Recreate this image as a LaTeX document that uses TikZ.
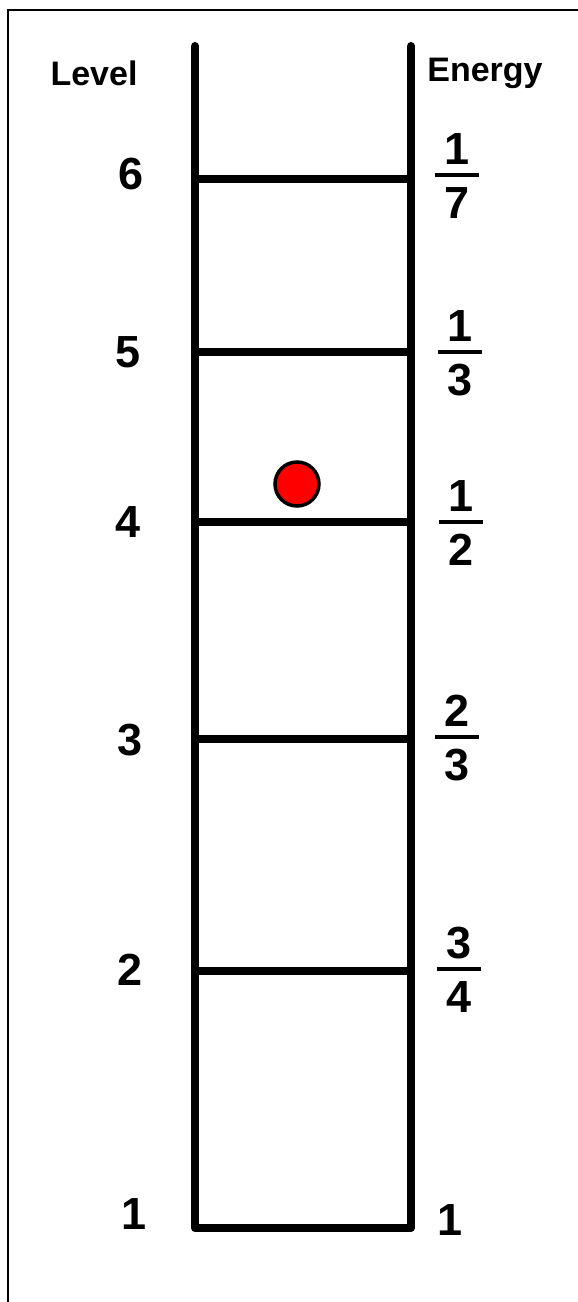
\documentclass[tikz,border=0pt]{standalone}
\usepackage{fontspec}
\setmainfont{Liberation Sans}
\begin{document}
\begin{tikzpicture}[x=1pt,y=-1pt,
  rail/.style={line width=8pt,line cap=round,line join=round},
  rung/.style={line width=7.5pt},
  lbl/.style={font=\bfseries\fontsize{34}{40}\selectfont,inner sep=0pt},
  num/.style={font=\bfseries\fontsize{45}{52}\selectfont,inner sep=0pt},
  frac/.style={font=\bfseries\fontsize{45}{52}\selectfont,inner sep=0pt},
  fbar/.style={line width=4.5pt},
  dot/.style={circle,fill=red,draw=black,line width=3.5pt,minimum size=44pt,inner sep=0pt}]
\useasboundingbox (0,0) rectangle (578,1302);
\begin{scope}
\clip (0,0) rectangle (578,1302);
\draw[line width=2pt] (8,1320) -- (8,10) -- (600,10);
\end{scope}
% rails
\coordinate (lt) at (195,46);
\coordinate (lb) at (195,1228);
\coordinate (rt) at (411,46);
\coordinate (rb) at (411,1228);
\draw[rail] (lt) -- (lb) -- (rb) -- (rt);
% rungs
\foreach \n/\y in {6/179,5/352,4/522,3/739,2/971}{
  \coordinate (l\n) at (195,\y);
  \coordinate (r\n) at (411,\y);
  \draw[rung] (l\n) -- (r\n);
}
% headers
\node[lbl] (hlevel) at (94,73) {Level};
\node[lbl] (henergy) at (485,73) {Energy};
% level numbers
\node[num] (n6) at (131,174) {6};
\node[num] (n5) at (128,352) {5};
\node[num] (n4) at (128,522) {4};
\node[num] (n3) at (130,740) {3};
\node[num] (n2) at (130,970) {2};
\node[num] (n1) at (134,1214) {1};
% fractions
\foreach \k/\a/\b/\y/\x in {6/1/7/175/457,5/1/3/352/460,4/1/2/522/461,3/2/3/737/457,2/3/4/969/459}{
  \node[frac] (t\k) at (\x,\y-26) {\a};
  \node[frac] (d\k) at (\x,\y+28) {\b};
  \coordinate (bl\k) at (\x-22,\y);
  \coordinate (br\k) at (\x+22,\y);
  \draw[fbar] (bl\k) -- (br\k);
}
\node[frac] (e1) at (450,1220) {1};
% particle
\node[dot] (p) at (297,484) {};
\end{tikzpicture}
\end{document}
